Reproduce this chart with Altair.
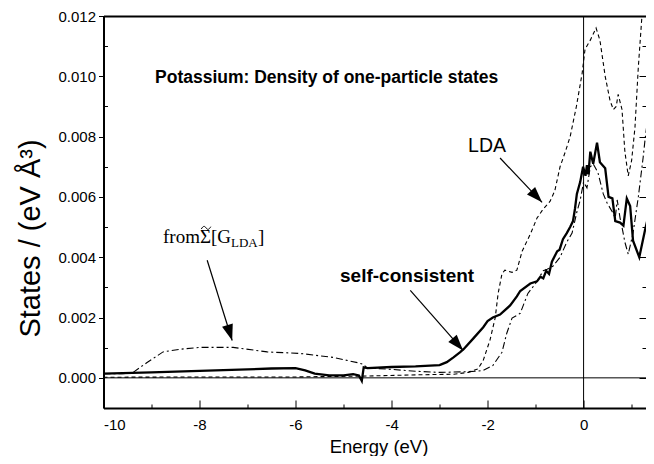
import math
import altair as alt
import pandas as pd

# ---------------- data ----------------
# energy in eV; density of states in 10^-3 states / (eV Å^3)
lda_energy = [-10.0, -8.0, -6.0, -4.5, -3.5, -2.7, -2.4, -2.2, -2.09, -1.95,
              -1.84, -1.78, -1.7, -1.64, -1.49, -1.39, -1.28, -1.1, -0.97, -0.84,
              -0.7, -0.6, -0.49, -0.38, -0.28, -0.15, -0.03, 0.03, 0.14, 0.26,
              0.34, 0.45, 0.55, 0.62, 0.68, 0.72, 0.8, 0.86, 0.93, 1.0,
              1.07, 1.14, 1.22, 1.3]
lda_dos = [0.02, 0.03, 0.03, 0.06, 0.1, 0.12, 0.18, 0.3, 0.58, 1.25,
           2.0, 2.8, 3.45, 3.57, 3.5, 3.57, 4.2, 4.8, 5.3, 5.6,
           5.85, 6.2, 7.0, 7.5, 8.0, 9.0, 10.1, 10.9, 11.2, 11.6,
           11.2, 10.0, 9.2, 8.9, 9.0, 9.4, 8.9, 7.5, 6.7, 7.2,
           8.3, 10.3, 12.1, 13.5]

sc_energy = [-10.0, -9.0, -8.0, -7.0, -6.5, -6.0, -5.8, -5.6, -5.3, -5.0,
             -4.8, -4.68, -4.62, -4.58, -4.5, -4.0, -3.5, -3.0, -2.85, -2.71,
             -2.57, -2.5, -2.3, -2.09, -2.0, -1.89, -1.74, -1.53, -1.39, -1.32,
             -1.11, -0.97, -0.9, -0.84, -0.78, -0.72, -0.66, -0.55, -0.5, -0.43,
             -0.35, -0.28, -0.22, -0.18, -0.14, -0.07, -0.01, 0.04, 0.07, 0.1,
             0.14, 0.2, 0.28, 0.34, 0.45, 0.52, 0.6, 0.66, 0.76, 0.83,
             0.9, 0.97, 1.03, 1.16, 1.28, 1.39, 1.5]
sc_dos = [0.14, 0.18, 0.23, 0.28, 0.31, 0.32, 0.25, 0.14, 0.08, 0.08,
          0.12, 0.08, -0.1, 0.35, 0.32, 0.36, 0.38, 0.42, 0.52, 0.68,
          0.85, 0.95, 1.3, 1.68, 1.88, 2.0, 2.1, 2.4, 2.7, 2.88,
          3.13, 3.2, 3.35, 3.3, 3.55, 3.45, 3.85, 4.2, 4.25, 4.6,
          4.8, 5.0, 5.2, 5.6, 6.1, 6.5, 7.0, 6.7, 7.05, 6.75,
          7.5, 7.1, 7.8, 7.15, 6.95, 6.0, 5.95, 5.2, 5.15, 5.05,
          5.95, 5.7, 4.55, 4.0, 4.9, 5.65, 6.8]

sg_energy = [-10.0, -9.6, -9.41, -9.1, -8.76, -8.4, -7.99, -7.3, -6.59, -5.91,
             -5.22, -4.7, -4.59, -4.51, -4.0, -3.5, -3.0, -2.5, -2.22, -2.09,
             -1.89, -1.7, -1.6, -1.49, -1.32, -1.16, -1.0, -0.84, -0.76, -0.64,
             -0.49, -0.35, -0.24, -0.14, -0.07, 0.0, 0.07, 0.14, 0.2, 0.3,
             0.41, 0.49, 0.6, 0.66, 0.7, 0.76, 0.8, 0.86, 0.93, 1.03,
             1.14, 1.24, 1.28, 1.39, 1.45]
sg_dos = [0.14, 0.14, 0.15, 0.5, 0.86, 0.95, 1.01, 1.01, 0.86, 0.81,
          0.68, 0.5, 0.45, 0.33, 0.28, 0.22, 0.18, 0.2, 0.22, 0.25,
          0.41, 0.85, 1.48, 1.98, 2.14, 2.8, 3.13, 3.55, 3.6, 3.7,
          4.0, 4.5, 4.8, 5.5, 5.9, 6.5, 6.3, 7.0, 7.1, 6.8,
          6.1, 5.8, 5.5, 5.3, 5.9, 5.3, 5.0, 4.5, 4.1, 4.8,
          6.0, 7.3, 7.9, 9.3, 9.8]

y_major_ticks = [0.000, 0.002, 0.004, 0.006, 0.008, 0.010, 0.012]
y_minor_ticks = [0.001, 0.003, 0.005, 0.007, 0.009, 0.011]
x_major_ticks = [-10, -8, -6, -4, -2, 0]
x_minor_ticks = [-9, -7, -5, -3, -1, 1]

title_text = "Potassium: Density of one-particle states"
lda_text = "LDA"
sc_text = "self-consistent"
sigma_main = "fromΣ[G"
sigma_sub = "LDA"
sigma_close = "]"

# annotation anchors (energy, 10^-3 density)
title_pos = (-8.927, 9.766)
lda_pos = (-2.01, 7.485)
sc_pos = (-5.073, 3.176)
sigma_pos = (-8.76, 4.46)

arrow_from_x = [-1.74, -3.61, -7.84]
arrow_from_y = [7.29, 2.90, 3.90]
arrow_to_x = [-0.865, -2.51, -7.32]
arrow_to_y = [5.82, 0.91, 1.24]

# ---------------- chart ----------------
W = 542.5
H = 392
XMIN, XMAX = -10.0, 1.3
YMIN, YMAX = -0.001, 0.012
xs = alt.Scale(domain=[XMIN, XMAX], nice=False, zero=False)
ys = alt.Scale(domain=[YMIN, YMAX], nice=False, zero=False)


def df_series(ex, dy):
    return pd.DataFrame({"e": ex, "d": [v * 1e-3 for v in dy]})


def xenc(axis=None):
    return alt.X("e:Q", scale=xs, axis=axis)


def yenc(axis=None):
    return alt.Y("d:Q", scale=ys, axis=axis)


ax_left_main = alt.Axis(orient="left", values=y_major_ticks, format=".3f",
                        tickSize=5, tickWidth=1, labelPadding=3, labelFontSize=15,
                        domainWidth=2, title="States / (eV Å³)", titleFontSize=29,
                        titleX=-73.5, titleY=222, titleAngle=270, titleAlign="center",
                        titleBaseline="middle", grid=False)
ax_left_minor = alt.Axis(orient="left", values=y_minor_ticks, labels=False, domain=False,
                         tickSize=4, tickWidth=1, offset=-4, title=None, grid=False)
ax_right_major = alt.Axis(orient="right", values=y_major_ticks, labels=False, domain=False,
                          tickSize=7, tickWidth=1, offset=-7, title=None, grid=False)
ax_right_minor = alt.Axis(orient="right", values=y_minor_ticks, labels=False, domain=False,
                          tickSize=4, tickWidth=1, offset=-4, title=None, grid=False)
ax_bottom_main = alt.Axis(orient="bottom", values=x_major_ticks, labelExpr="'' + datum.value",
                          ticks=False, labelPadding=9, labelFontSize=15, domainWidth=2,
                          title="Energy (eV)", titleFontSize=18.5, titleX=275, titleY=38,
                          titleAlign="center", titleBaseline="middle", grid=False)
ax_bottom_major = alt.Axis(orient="bottom", values=x_major_ticks, labels=False, domain=False,
                           tickSize=8, tickWidth=1, offset=-8, title=None, grid=False)
ax_bottom_minor = alt.Axis(orient="bottom", values=x_minor_ticks, labels=False, domain=False,
                           tickSize=4, tickWidth=1, offset=-4, title=None, grid=False)
ax_top = alt.Axis(orient="top", labels=False, ticks=False, domainWidth=2, title=None, grid=False)

hline = alt.Chart(pd.DataFrame({"d": [0.0]})).mark_rule(color="black", strokeWidth=1).encode(
    y=yenc(ax_left_main))
vline = alt.Chart(pd.DataFrame({"e": [0.0]})).mark_rule(color="black", strokeWidth=1).encode(
    x=xenc(ax_bottom_main))

sg_line = alt.Chart(df_series(sg_energy, sg_dos)).mark_line(
    clip=True, color="black", strokeWidth=1.1, strokeDash=[7, 3, 2, 3]).encode(
    x=xenc(ax_bottom_major), y=yenc(ax_left_minor))
lda_line = alt.Chart(df_series(lda_energy, lda_dos)).mark_line(
    clip=True, color="black", strokeWidth=1.1, strokeDash=[4, 3]).encode(
    x=xenc(ax_bottom_minor), y=yenc(ax_right_major))
sc_line = alt.Chart(df_series(sc_energy, sc_dos)).mark_line(
    clip=True, color="black", strokeWidth=2.3).encode(
    x=xenc(ax_top), y=yenc(ax_right_minor))

px_e = W / (XMAX - XMIN)
px_d = H / ((YMAX - YMIN) * 1e3)
angles = [math.degrees(math.atan2((x1 - x0) * px_e, (y1 - y0) * px_d)) % 360
          for x0, y0, x1, y1 in zip(arrow_from_x, arrow_from_y, arrow_to_x, arrow_to_y)]
arrows_df = pd.DataFrame({
    "e": arrow_from_x, "d": [v * 1e-3 for v in arrow_from_y],
    "e2": arrow_to_x, "d2": [v * 1e-3 for v in arrow_to_y],
    "ang": angles,
})
arrow_lines = alt.Chart(arrows_df).mark_rule(color="black", strokeWidth=1.2).encode(
    x=xenc(), y=yenc(), x2="e2:Q", y2="d2:Q")
arrow_heads = alt.Chart(arrows_df).mark_point(
    shape="M0,0L-0.7,2L0.7,2Z", filled=True, size=256, color="black", opacity=1,
    strokeWidth=0).encode(
    x=alt.X("e2:Q", scale=xs, axis=None), y=alt.Y("d2:Q", scale=ys, axis=None),
    angle=alt.Angle("ang:Q", scale=None))


def label(pos, text, **kw):
    d = pd.DataFrame({"e": [pos[0]], "d": [pos[1] * 1e-3], "t": [text]})
    return alt.Chart(d).mark_text(color="black", baseline="alphabetic", **kw).encode(
        x=xenc(), y=yenc(), text="t:N")


title_lbl = label(title_pos, title_text, align="left", font="Liberation Sans",
                  fontSize=17.5, fontWeight="bold")
lda_lbl = label(lda_pos, lda_text, align="center", font="Liberation Sans", fontSize=19.5)
sc_lbl = label(sc_pos, sc_text, align="left", font="Liberation Sans", fontSize=19,
               fontWeight="bold")
sg_lbl1 = label(sigma_pos, sigma_main, align="left", font="Liberation Serif", fontSize=19)
sg_lbl2 = label(sigma_pos, sigma_sub, align="left", font="Liberation Serif", fontSize=13,
                dx=68, dy=4)
sg_lbl3 = label(sigma_pos, sigma_close, align="left", font="Liberation Serif", fontSize=19,
                dx=95)
# tilde accent over the Sigma, drawn as a small stroked path
sg_tilde = alt.Chart(pd.DataFrame({"e": [sigma_pos[0]], "d": [sigma_pos[1] * 1e-3]})).mark_point(
    shape="M-1,0.25C-0.6,-0.45,-0.3,-0.45,0,0C0.3,0.45,0.6,0.45,1,-0.25",
    filled=False, size=90, color="black", strokeWidth=1, opacity=1,
    xOffset=43, yOffset=-15.5).encode(x=xenc(), y=yenc())

chart = alt.layer(
    hline, vline, sg_line, lda_line, sc_line, arrow_lines, arrow_heads,
    title_lbl, lda_lbl, sc_lbl, sg_lbl1, sg_lbl2, sg_lbl3, sg_tilde,
).resolve_axis(x="independent", y="independent").properties(
    width=W, height=H,
    autosize=alt.AutoSizeParams(type="none"),
    padding={"left": 95.5, "top": 8, "right": 0, "bottom": 48},
).configure_view(stroke=None).configure_axis(
    labelFont="Liberation Sans", titleFont="Liberation Sans", labelColor="black",
    titleColor="black", domainColor="black", tickColor="black", titleFontWeight="normal",
)

chart.save("out.html", embed_options={"renderer": "svg", "actions": False})
